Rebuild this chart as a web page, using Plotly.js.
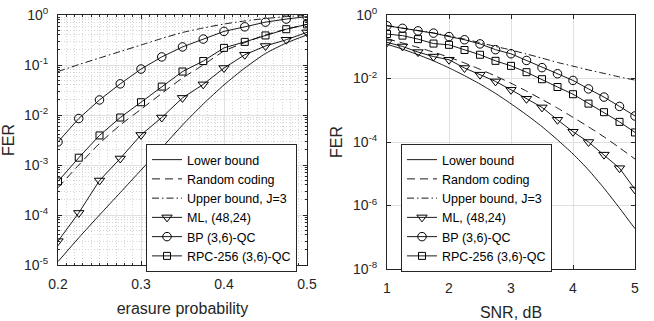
<!DOCTYPE html>
<html>
<head>
<meta charset="utf-8">
<script src="https://cdn.plot.ly/plotly-3.0.1.min.js"></script>
<style>
  html, body { margin: 0; padding: 0; background: #fff; }
  #fig { width: 654px; height: 321px; }
</style>
</head>
<body>
<div id="fig"></div>
<script>
// left panel: FER vs erasure probability
var erasure = [0.2, 0.225, 0.25, 0.275, 0.3, 0.325, 0.35, 0.375, 0.4, 0.425, 0.45, 0.475, 0.5];
var bec_lower  = [1.17e-5, 3.5e-5, 1.0e-4, 2.8e-4, 7.9e-4, 2.2e-3, 6.3e-3, 1.66e-2, 4.0e-2, 8.7e-2, 0.17, 0.275, 0.40];
var bec_random = [3.5e-4, 1.0e-3, 2.7e-3, 6.3e-3, 1.3e-2, 2.7e-2, 5.5e-2, 0.10, 0.19, 0.28, 0.40, 0.52, 0.65];
var bec_upper  = [0.074, 0.102, 0.138, 0.186, 0.251, 0.339, 0.447, 0.55, 0.66, 0.76, 0.85, 0.93, 0.98];
var bec_ml     = [3.0e-5, 1.1e-4, 4.9e-4, 1.35e-3, 4.0e-3, 8.9e-3, 2.2e-2, 4.1e-2, 8.7e-2, 0.16, 0.24, 0.32, 0.45];
var bec_bp     = [2.9e-3, 8.5e-3, 2.0e-2, 4.2e-2, 8.3e-2, 0.145, 0.23, 0.33, 0.47, 0.58, 0.72, 0.83, 0.93];
var bec_rpc    = [4.7e-4, 1.4e-3, 3.9e-3, 8.9e-3, 1.8e-2, 3.7e-2, 7.4e-2, 0.12, 0.22, 0.29, 0.39, 0.52, 0.65];

// right panel: FER vs SNR
var snr = [1, 1.25, 1.5, 1.75, 2, 2.25, 2.5, 2.75, 3, 3.25, 3.5, 3.75, 4, 4.25, 4.5, 4.75, 5];
var awgn_lower  = [0.120, 0.0841, 0.0562, 0.0359, 0.0216, 0.0123, 6.7e-3, 3.4e-3, 1.6e-3, 7.2e-4, 3.05e-4, 1.17e-4, 4.2e-5, 1.32e-5, 3.5e-6, 8.3e-7, 1.86e-7];
var awgn_random = [0.178, 0.132, 0.0955, 0.0676, 0.0468, 0.0309, 0.0195, 0.0120, 7.1e-3, 4.0e-3, 2.19e-3, 1.17e-3, 6.0e-4, 3.0e-4, 1.45e-4, 6.6e-5, 2.9e-5];
var awgn_upper  = [0.468, 0.389, 0.324, 0.272, 0.219, 0.174, 0.135, 0.102, 0.079, 0.059, 0.044, 0.032, 0.0245, 0.0186, 0.0145, 0.0112, 8.9e-3];
var awgn_ml     = [0.138, 0.102, 0.068, 0.049, 0.039, 0.0214, 0.0132, 8.1e-3, 4.4e-3, 2.3e-3, 1.23e-3, 5.0e-4, 2.1e-4, 1.0e-4, 4.0e-5, 1.5e-5, 3.2e-6];
var awgn_bp     = [0.457, 0.380, 0.316, 0.269, 0.209, 0.166, 0.123, 0.081, 0.060, 0.037, 0.022, 0.0141, 8.7e-3, 4.7e-3, 2.6e-3, 1.32e-3, 6.6e-4];
var awgn_rpc    = [0.251, 0.224, 0.174, 0.126, 0.115, 0.079, 0.056, 0.036, 0.025, 0.0158, 9.5e-3, 5.4e-3, 3.2e-3, 1.62e-3, 8.7e-4, 4.3e-4, 2.0e-4];

var names = ['Lower bound', 'Random coding', 'Upper bound, J=3', 'ML, (48,24)', 'BP (3,6)-QC', 'RPC-256 (3,6)-QC'];

var left_ticks = [1e-5, 1e-4, 1e-3, 1e-2, 1e-1, 1];
var left_ticktext = ['10<sup>-5</sup>', '10<sup>-4</sup>', '10<sup>-3</sup>', '10<sup>-2</sup>', '10<sup>-1</sup>', '10<sup>0</sup>'];
var right_ticks = [1e-8, 1e-6, 1e-4, 1e-2, 1];
var right_ticktext = ['10<sup>-8</sup>', '10<sup>-6</sup>', '10<sup>-4</sup>', '10<sup>-2</sup>', '10<sup>0</sup>'];

var FONT = 'Liberation Sans, Arial, sans-serif';
var INK = '#262626';

// minor log grid positions 2..9 per decade
var minorLog = [];
for (var d = -5; d < 0; d++) {
  for (var k = 2; k <= 9; k++) minorLog.push(k * Math.pow(10, d));
}

function curve(x, y, i, xa, ya, leg, dash) {
  return {
    x: x, y: y, xaxis: xa, yaxis: ya, legend: leg,
    name: names[i], mode: 'lines', type: 'scatter',
    line: {color: '#000', width: 0.9, dash: dash, shape: 'spline', smoothing: 0.6},
    hoverinfo: 'none'
  };
}
function marked(x, y, i, xa, ya, leg, sym, sz) {
  return {
    x: x, y: y, xaxis: xa, yaxis: ya, legend: leg,
    name: names[i], mode: 'lines+markers', type: 'scatter',
    line: {color: '#000', width: 0.9},
    marker: {symbol: sym, size: sz, color: '#000', line: {color: '#000', width: 1}},
    hoverinfo: 'none'
  };
}

var data = [
  curve(erasure, bec_lower, 0, 'x', 'y', 'legend', 'solid'),
  curve(erasure, bec_random, 1, 'x', 'y', 'legend', '8px,5px'),
  curve(erasure, bec_upper, 2, 'x', 'y', 'legend', '7px,3px,1.5px,3px'),
  marked(erasure, bec_ml, 3, 'x', 'y', 'legend', 'triangle-down-open', 9),
  marked(erasure, bec_bp, 4, 'x', 'y', 'legend', 'circle-open', 8.5),
  marked(erasure, bec_rpc, 5, 'x', 'y', 'legend', 'square-open', 7),

  curve(snr, awgn_lower, 0, 'x2', 'y2', 'legend2', 'solid'),
  curve(snr, awgn_random, 1, 'x2', 'y2', 'legend2', '8px,5px'),
  curve(snr, awgn_upper, 2, 'x2', 'y2', 'legend2', '7px,3px,1.5px,3px'),
  marked(snr, awgn_ml, 3, 'x2', 'y2', 'legend2', 'triangle-down-open', 9),
  marked(snr, awgn_bp, 4, 'x2', 'y2', 'legend2', 'circle-open', 8.5),
  marked(snr, awgn_rpc, 5, 'x2', 'y2', 'legend2', 'square-open', 7)
];

var MINOR_GRID = '#d6d6d6';

function axisBase() {
  return {
    showline: true, mirror: 'ticks', linecolor: INK, linewidth: 1,
    ticks: 'inside', ticklen: 4, tickcolor: INK, tickwidth: 1,
    showgrid: true, gridcolor: '#e0e0e0', gridwidth: 1,
    zeroline: false, ticklabelstandoff: 6,
    tickfont: {family: FONT, size: 14, color: INK}
  };
}

var xa = axisBase();
Object.assign(xa, {
  domain: [58 / 654, 307 / 654], range: [0.2, 0.5], tickmode: 'linear', tick0: 0.2, dtick: 0.1,
  anchor: 'y',
  minor: {dtick: 0.01, tick0: 0.2, ticks: 'inside', ticklen: 2, tickcolor: INK, showgrid: true, griddash: '1px,2px', gridcolor: MINOR_GRID, gridwidth: 1},
  title: {text: 'erasure probability', font: {family: FONT, size: 16, color: INK}, standoff: 12}
});
var ya = axisBase();
Object.assign(ya, {
  type: 'log', domain: [1 - 265 / 321, 1 - 15 / 321], range: [-5, 0], anchor: 'x',
  tickmode: 'array', tickvals: left_ticks, ticktext: left_ticktext,
  minor: {tickmode: 'array', tickvals: minorLog, ticks: 'inside', ticklen: 2, tickcolor: INK, showgrid: true, griddash: '1px,2px', gridcolor: MINOR_GRID, gridwidth: 1},
  title: {text: 'FER', font: {family: FONT, size: 16, color: INK}, standoff: 6}
});
var xa2 = axisBase();
Object.assign(xa2, {
  domain: [387 / 654, 635 / 654], range: [1, 5], tickmode: 'linear', tick0: 1, dtick: 1, anchor: 'y2',
  title: {text: 'SNR, dB', font: {family: FONT, size: 16, color: INK}, standoff: 12}
});
var ya2 = axisBase();
Object.assign(ya2, {
  type: 'log', domain: [1 - 269 / 321, 1 - 15 / 321], range: [-8, 0], anchor: 'x2',
  tickmode: 'array', tickvals: right_ticks, ticktext: right_ticktext,
  title: {text: 'FER', font: {family: FONT, size: 16, color: INK}, standoff: 6}
});

function legendBox(x) {
  return {
    x: x, y: 1 - 144 / 321, xanchor: 'left', yanchor: 'top',
    bgcolor: '#fff', bordercolor: INK, borderwidth: 1,
    font: {family: FONT, size: 12.5, color: '#000'},
    itemwidth: 30, tracegroupgap: 0
  };
}

var layout = {
  width: 654, height: 321,
  margin: {l: 0, r: 0, t: 0, b: 0},
  paper_bgcolor: '#fff', plot_bgcolor: '#fff',
  font: {family: FONT, color: INK},
  showlegend: true,
  xaxis: xa, yaxis: ya, xaxis2: xa2, yaxis2: ya2,
  legend: legendBox(146 / 654),
  legend2: legendBox(401 / 654)
};

Plotly.newPlot('fig', data, layout, {staticPlot: true, displayModeBar: false});
</script>
</body>
</html>
